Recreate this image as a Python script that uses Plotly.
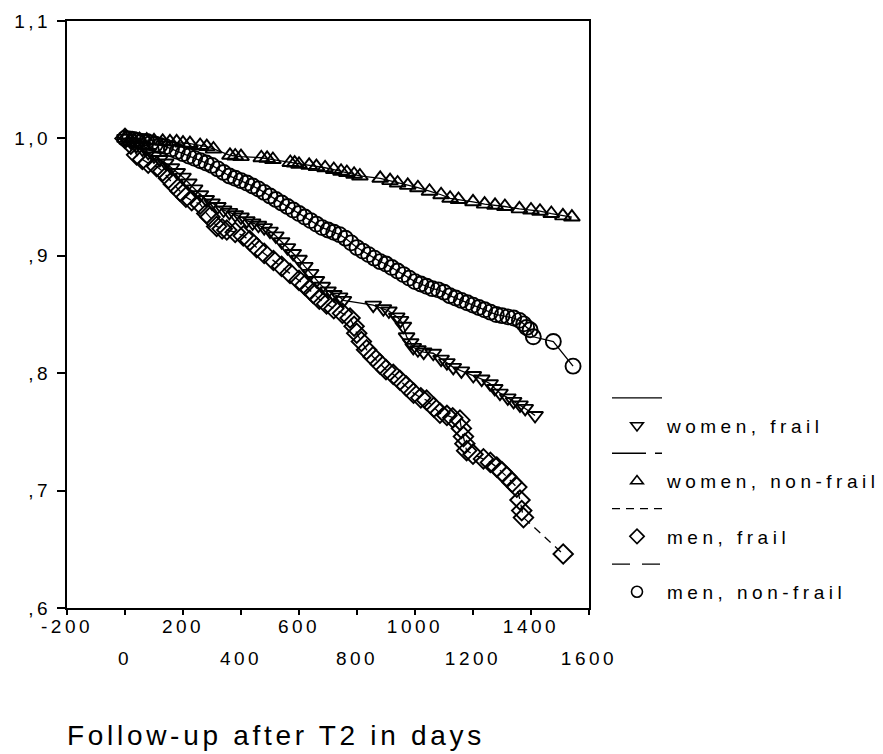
import plotly.graph_objects as go

# ---------------- data ----------------
wf_t = [0, 20, 40, 60, 80, 100, 120, 140, 160, 180, 200, 220, 240, 260, 280, 300, 320, 340, 360, 380,
        400, 420, 440, 460, 480, 500, 520, 540, 560, 580, 600, 620, 640, 660, 680, 700, 720, 740, 753,
        856, 891, 910, 937, 950, 960, 971, 985, 994, 1010, 1030, 1063, 1090, 1110, 1132, 1160, 1201, 1230,
        1259, 1275, 1293, 1320, 1340, 1362, 1380, 1414]
wf_s = [1.0, .997, .994, .991, .988, .985, .982, .979, .975, .971, .967, .962, .957, .952, .948, .945, .942,
        .939, .937, .935, .933, .930, .928, .926, .924, .921, .917, .912, .907, .902, .897, .891, .885, .879,
        .874, .870, .867, .865, .862, .858, .855, .853, .848, .845, .840, .831, .826, .822, .820, .818, .817,
        .812, .809, .805, .802, .798, .795, .791, .787, .783, .779, .776, .773, .770, .764]

wn_t = [0, 25, 50, 75, 100, 130, 155, 178, 200, 224, 259, 282, 305, 362, 380, 400, 470, 490, 510, 570,
        585, 600, 635, 660, 690, 720, 745, 765, 790, 810, 880, 914, 940, 975, 1010, 1050, 1090, 1121, 1150,
        1200, 1240, 1276, 1310, 1360, 1400, 1431, 1470, 1510, 1541]
wn_s = [1.0, .9995, .999, .9985, .998, .9975, .997, .997, .996, .9956, .994, .993, .991, .9856, .985, .9845,
        .9835, .983, .982, .9795, .979, .978, .977, .976, .975, .9735, .972, .971, .9695, .968, .966, .964,
        .962, .960, .958, .955, .952, .949, .948, .946, .944, .943, .942, .940, .939, .938, .936, .934, .933]

mf_t = [0, 20, 40, 60, 80, 109, 130, 150, 167, 190, 210, 230, 259, 282, 293, 316, 335, 351, 380, 408,
        430, 454, 480, 512, 540, 569, 600, 620, 638, 649, 670, 695, 720, 750, 776, 790, 799, 815, 833, 855,
        879, 900, 925, 948, 970, 995, 1020, 1040, 1065, 1086, 1110, 1130, 1155, 1160, 1167, 1172, 1178, 1200,
        1236, 1260, 1282, 1300, 1316, 1335, 1351, 1362, 1368, 1374, 1511]
mf_s = [1.0, .995, .986, .982, .979, .976, .972, .966, .961, .955, .950, .947, .944, .936, .933, .925, .923,
        .922, .920, .917, .913, .907, .902, .896, .891, .885, .879, .875, .871, .868, .863, .859, .855, .851,
        .847, .840, .834, .827, .820, .814, .808, .803, .799, .794, .789, .783, .779, .777, .771, .766, .764,
        .762, .760, .753, .746, .740, .734, .731, .727, .724, .720, .716, .712, .707, .703, .692, .683, .677, .646]

mn_t = [0, 15, 30, 45, 60, 75, 90, 105, 120, 140, 160, 180, 200, 220, 240, 260, 280, 300, 320, 340, 360,
        380, 400, 420, 440, 460, 480, 500, 520, 540, 560, 580, 600, 620, 640, 660, 680, 700, 720, 740, 760,
        780, 800, 820, 840, 860, 880, 900, 920, 940, 960, 980, 1000, 1020, 1040, 1060, 1080, 1100, 1120,
        1140, 1160, 1180, 1200, 1220, 1240, 1260, 1280, 1300, 1320, 1340, 1360, 1375, 1385, 1397, 1408,
        1477, 1545]
mn_s = [1.0, .9995, .999, .998, .9975, .9975, .996, .995, .994, .993, .991, .989, .987, .985, .983, .981,
        .979, .977, .974, .971, .968, .966, .964, .962, .9595, .957, .954, .951, .948, .945, .942, .939, .936,
        .933, .930, .927, .924, .922, .920, .918, .915, .911, .907, .904, .901, .898, .895, .893, .890, .887,
        .884, .881, .878, .876, .874, .872, .871, .869, .866, .864, .862, .860, .858, .856, .854, .852, .850,
        .849, .848, .847, .845, .842, .839, .837, .831, .827, .806]

series_names = ["women, frail", "women, non-frail", "men, frail", "men, non-frail"]
series_t = [wf_t, wn_t, mf_t, mn_t]
series_s = [wf_s, wn_s, mf_s, mn_s]
symbols = ["triangle-down-open", "triangle-up-open", "diamond-open", "circle-open"]
marker_sizes = [14, 14, 15, 15]
legend_marker_sizes = [11, 11, 11, 11]
legend_dashes = ["solid", "34px,9px,7px,9px", "8px,6px", "18px,12px"]
plot_dashes = ["solid", "solid", "8px,6px", "solid"]

x_tickvals = [-200, 0, 200, 400, 600, 800, 1000, 1200, 1400, 1600]
x_row1 = ["-200", "", "200", "", "600", "", "1000", "", "1400", ""]
x_row2 = ["", "0", "", "400", "", "800", "", "1200", "", "1600"]
y_tickvals = [0.6, 0.7, 0.8, 0.9, 1.0, 1.1]
y_ticktext = [",6", ",7", ",8", ",9", "1,0", "1,1"]
x_title = "Follow-up after T2 in days"

FONT = "Arial, Liberation Sans, sans-serif"

fig = go.Figure()
for name, t, s, sym, ms, lms, ldash, pdash in zip(series_names, series_t, series_s, symbols, marker_sizes,
                                                  legend_marker_sizes, legend_dashes, plot_dashes):
    # connecting line drawn in the plot
    fig.add_trace(go.Scatter(x=t, y=s, mode="lines", showlegend=False,
                             line=dict(color="black", width=1.3, dash=pdash),
                             xaxis="x", yaxis="y", hoverinfo="skip"))
    # markers drawn in the plot
    fig.add_trace(go.Scatter(x=t, y=s, mode="markers", name=name, showlegend=False,
                             marker=dict(symbol=sym, size=ms, color="black",
                                         line=dict(color="black", width=1.9)),
                             xaxis="x", yaxis="y"))
    # legend samples: line style row, then marker + label row
    fig.add_trace(go.Scatter(x=[None], y=[None], mode="lines", name="\u00a0",
                             line=dict(color="black", width=1.3, dash=ldash),
                             xaxis="x", yaxis="y", hoverinfo="skip"))
    fig.add_trace(go.Scatter(x=[None], y=[None], mode="markers", name=name,
                             marker=dict(symbol=sym, size=lms, color="black",
                                         line=dict(color="black", width=1.6)),
                             xaxis="x", yaxis="y", hoverinfo="skip"))

# invisible trace to activate the second x axis (row of lower tick labels)
fig.add_trace(go.Scatter(x=[x_tickvals[0]], y=[y_tickvals[0]], mode="markers", marker=dict(opacity=0),
                         xaxis="x2", yaxis="y", showlegend=False, hoverinfo="skip"))

W, H = 883, 754
ml, mr, mt, mb = 67, 294, 21, 109
ph = H - mt - mb
pw = W - ml - mr
paper_bottom = H - mb
plot_bottom = 608
ydom0 = (paper_bottom - plot_bottom) / ph

fig.update_layout(
    width=W, height=H,
    margin=dict(l=ml, r=mr, t=mt, b=mb),
    paper_bgcolor="white", plot_bgcolor="white",
    font=dict(family=FONT, color="black", size=19),
    showlegend=True,
    legend=dict(x=(607 - ml) / pw, y=(paper_bottom - 379) / ph, xanchor="left", yanchor="top",
                font=dict(family=FONT, size=19, color="black"), bgcolor="rgba(0,0,0,0)",
                traceorder="normal", itemwidth=50),
    xaxis=dict(range=[-200, 1600], tickvals=x_tickvals, ticktext=x_row1, ticks="outside", ticklen=5,
               tickwidth=1.5, tickcolor="black", showline=True, linecolor="black", linewidth=2,
               mirror=True, showgrid=False, zeroline=False, anchor="y", ticklabelstandoff=-5,
               tickfont=dict(family=FONT, size=19, color="black")),
    xaxis2=dict(range=[-200, 1600], tickvals=x_tickvals, ticktext=x_row2, ticks="", overlaying="x",
                anchor="free", position=0, side="bottom", showline=False, showgrid=False,
                zeroline=False, tickfont=dict(family=FONT, size=19, color="black")),
    yaxis=dict(range=[0.6, 1.1], domain=[ydom0, 1], tickvals=y_tickvals, ticktext=y_ticktext,
               ticks="outside", ticklen=8, tickwidth=1.5, tickcolor="black", showline=True,
               linecolor="black", linewidth=2, mirror=True, showgrid=False, zeroline=False,
               tickfont=dict(family=FONT, size=19, color="black"), ticklabelstandoff=2),
    annotations=[dict(text=x_title, xref="paper", yref="paper", x=-0.004, y=(paper_bottom - 735) / ph,
                      xanchor="left", yanchor="middle", align="left", showarrow=False,
                      font=dict(family=FONT, size=28, color="black"))],
)

post = """
var s=document.createElement('style');
s.textContent='body{margin:0 !important;}'+
 '.xtick text,.x2tick text,.ytick text{letter-spacing:3.5px}'+
 '.legendtext{letter-spacing:4.5px}'+
 '.annotation-text{letter-spacing:3.7px}'+
 '.legend .scrollbox{clip-path:none !important}';
document.head.appendChild(s);
"""
fig.write_html("out.html", post_script=post, config={"displayModeBar": False})
